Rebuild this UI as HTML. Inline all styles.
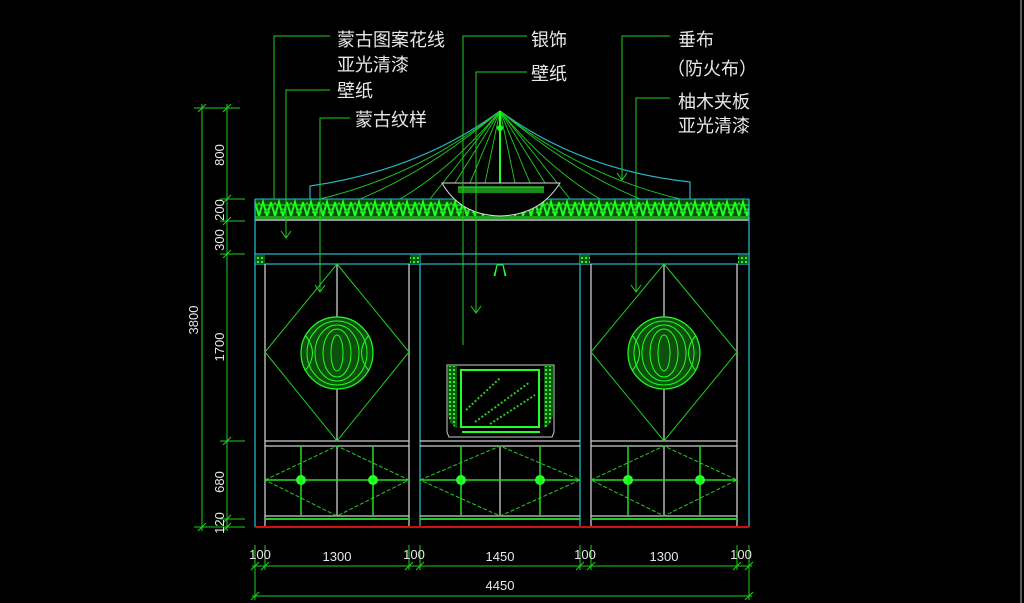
<!DOCTYPE html>
<html><head><meta charset="utf-8"><style>
html,body{margin:0;padding:0;background:#000;width:1024px;height:603px;overflow:hidden}
svg{display:block}
.t{font-family:"Liberation Sans","Noto Sans CJK SC",sans-serif;fill:#e8e8e8;font-size:18px}
.d{font-family:"Liberation Sans",sans-serif;fill:#e8e8e8;font-size:13px}
</style></head><body>
<svg width="1024" height="603" viewBox="0 0 1024 603" xmlns="http://www.w3.org/2000/svg">
<defs>
<pattern id="zz" x="255" y="199" width="16" height="20" patternUnits="userSpaceOnUse">
<rect width="16" height="20" fill="#0b4a0b"/>
<path d="M0 3 L4 17 L8 3 L12 17 L16 3" stroke="#22ff22" stroke-width="2" fill="none"/>
<path d="M1 8 L4 4 L7 8 M9 14 L12 10 L15 14 M2 12 L6 12 M10 6 L14 6" stroke="#18d818" stroke-width="1.3" fill="none"/>
<rect x="0" y="17" width="16" height="3" fill="#1ea01e"/>
</pattern>
<pattern id="sw" width="4" height="4" patternUnits="userSpaceOnUse">
<rect width="4" height="4" fill="#0a5a0a"/><circle cx="2" cy="2" r="1.1" fill="#3f3"/>
</pattern>
</defs>
<rect width="1024" height="603" fill="#000"/>
<line x1="1021" y1="0" x2="1021" y2="603" stroke="#777" stroke-width="1.5"/>

<!-- dome -->
<path d="M310 199 L310 186 Q420 170 500 111 Q580 170 690 182 L690 199" stroke="#2ab4c4" fill="none" stroke-width="1.2"/>
<g stroke="#1ed01e" stroke-width="0.9" fill="none">
<path d="M500 111 Q420 175 320 199"/><path d="M500 111 Q430 170 360 199"/><path d="M500 111 Q450 170 400 199"/>
<path d="M500 111 L430 199"/><path d="M500 111 L455 183"/><path d="M500 111 L470 183"/><path d="M500 111 L485 183"/>
<path d="M500 111 L515 183"/><path d="M500 111 L530 183"/><path d="M500 111 L545 183"/><path d="M500 111 L570 199"/>
<path d="M500 111 Q550 170 600 199"/><path d="M500 111 Q570 170 640 199"/><path d="M500 111 Q580 175 680 199"/>
</g>
<line x1="500" y1="111" x2="500" y2="183" stroke="#2f2" stroke-width="2"/>
<circle cx="500" cy="128" r="3" fill="#2f2"/>
<!-- cornice -->
<rect x="255" y="199" width="494" height="20" fill="url(#zz)"/>
<line x1="255" y1="199" x2="749" y2="199" stroke="#2ab4c4"/>
<line x1="255" y1="220" x2="749" y2="220" stroke="#999" stroke-width="2"/>
<!-- bowl -->
<path d="M442 183 L560 183 Q540 215 500 216 Q460 215 442 183 Z" fill="#000" stroke="#ddd" stroke-width="1"/>
<rect x="458" y="187" width="86" height="6" fill="#1a8a1a"/>
<line x1="458" y1="187" x2="544" y2="187" stroke="#2f2"/>
<!-- frame -->
<g stroke="#2ab4c4" stroke-width="1.3" fill="none">
<line x1="255" y1="199" x2="255" y2="527"/><line x1="749" y1="199" x2="749" y2="527"/>
<line x1="255" y1="254" x2="749" y2="254"/><line x1="255" y1="264" x2="749" y2="264"/>
<line x1="420" y1="254" x2="420" y2="527"/><line x1="580" y1="254" x2="580" y2="527"/>
</g>
<g stroke="#ccc" stroke-width="1.3" fill="none">
<line x1="265" y1="264" x2="265" y2="527"/><line x1="409" y1="264" x2="409" y2="527"/>
<line x1="591" y1="264" x2="591" y2="527"/><line x1="737" y1="264" x2="737" y2="527"/>
<line x1="337" y1="264" x2="337" y2="441"/><line x1="664" y1="264" x2="664" y2="441"/>
<line x1="265" y1="441" x2="409" y2="441"/><line x1="420" y1="441" x2="580" y2="441"/><line x1="591" y1="441" x2="737" y2="441"/>
<line x1="265" y1="446" x2="409" y2="446"/><line x1="420" y1="446" x2="580" y2="446"/><line x1="591" y1="446" x2="737" y2="446"/>
<line x1="265" y1="516" x2="409" y2="516"/><line x1="420" y1="516" x2="580" y2="516"/><line x1="591" y1="516" x2="737" y2="516"/>
<line x1="337" y1="446" x2="337" y2="516"/><line x1="500" y1="446" x2="500" y2="516"/><line x1="664" y1="446" x2="664" y2="516"/>
</g>
<g stroke="#2c2" stroke-width="2"><line x1="265" y1="519" x2="409" y2="519"/><line x1="420" y1="519" x2="580" y2="519"/><line x1="591" y1="519" x2="737" y2="519"/></g>
<line x1="255" y1="527" x2="749" y2="527" stroke="#d01010" stroke-width="2"/>
<!-- corner blocks -->
<g fill="url(#sw)"><rect x="256" y="255" width="9" height="9"/><rect x="410" y="255" width="10" height="9"/><rect x="580" y="255" width="10" height="9"/><rect x="738" y="255" width="10" height="9"/></g>
<!-- diamonds -->
<g stroke="#1ed01e" fill="none" stroke-width="1">
<path d="M337 264 L409 352 L337 441 L265 352 Z"/><path d="M664 264 L737 352 L664 441 L591 352 Z"/>
</g>
<g fill="#0c500c" stroke="#2f2" stroke-width="1.2">
<circle cx="337" cy="353" r="36"/><circle cx="664" cy="353" r="36"/>
</g>
<g stroke="#2f2" fill="none" stroke-width="1">
<ellipse cx="337" cy="353" rx="30" ry="32"/><ellipse cx="337" cy="353" rx="22" ry="28"/><ellipse cx="337" cy="353" rx="14" ry="24"/><ellipse cx="337" cy="353" rx="6" ry="18"/>
<ellipse cx="664" cy="353" rx="30" ry="32"/><ellipse cx="664" cy="353" rx="22" ry="28"/><ellipse cx="664" cy="353" rx="14" ry="24"/><ellipse cx="664" cy="353" rx="6" ry="18"/>
<path d="M305 335 Q320 353 305 371 M369 335 Q354 353 369 371 M632 335 Q647 353 632 371 M696 335 Q681 353 696 371"/>
</g>
<!-- lower cabinet diamonds -->
<g stroke="#1ed01e" fill="none" stroke-width="1" stroke-dasharray="4 2">
<path d="M265 480 L337 446 L409 480 L337 516 Z"/><path d="M420 480 L500 446 L580 480 L500 516 Z"/><path d="M591 480 L664 446 L737 480 L664 516 Z"/>
</g>
<g stroke="#2d2" stroke-width="1.5">
<line x1="265" y1="480" x2="409" y2="480"/><line x1="420" y1="480" x2="580" y2="480"/><line x1="591" y1="480" x2="737" y2="480"/>
<line x1="301" y1="446" x2="301" y2="516"/><line x1="373" y1="446" x2="373" y2="516"/>
<line x1="461" y1="446" x2="461" y2="516"/><line x1="540" y1="446" x2="540" y2="516"/>
<line x1="628" y1="446" x2="628" y2="516"/><line x1="700" y1="446" x2="700" y2="516"/>
</g>
<g fill="#2f2"><circle cx="301" cy="480" r="5"/><circle cx="373" cy="480" r="5"/><circle cx="461" cy="480" r="5"/><circle cx="540" cy="480" r="5"/><circle cx="628" cy="480" r="5"/><circle cx="700" cy="480" r="5"/></g>
<!-- small lamp -->
<path d="M494 276 L497 265 L503 265 L506 276 M497 265 L495 276 M503 265 L505 276" stroke="#2f2" fill="none"/>
<!-- TV -->
<path d="M447 365 L554 365 L554 432 L552 437 L449 437 L447 432 Z" stroke="#ccc" fill="#000"/>
<path d="M448 366 L457 366 L457 428 Q450 425 448 415 Z" fill="url(#sw)"/><path d="M544 366 L553 366 L553 415 Q551 425 544 428 Z" fill="url(#sw)"/>
<rect x="461" y="370" width="78" height="57" stroke="#2f2" stroke-width="2" fill="#000"/>
<path d="M466 410 L500 378 M475 422 L530 382 M490 424 L535 395" stroke="#2c2" stroke-width="2" stroke-dasharray="2 2"/>
<line x1="462" y1="432" x2="540" y2="432" stroke="#2f2" stroke-width="2"/>
<!-- leaders -->
<g stroke="#1ed01e" fill="none" stroke-width="1">
<path d="M330 36 L274 36 L274 199"/>
<path d="M330 90 L286 90 L286 238"/><path d="M281 231 L286 238 L291 231"/>
<path d="M350 118 L320 118 L320 292"/><path d="M315 285 L320 292 L325 285"/>
<path d="M527 36 L463 36 L463 345"/>
<path d="M527 72 L476 72 L476 313"/><path d="M471 306 L476 313 L481 306"/>
<path d="M670 36 L622 36 L622 180"/><path d="M617 173 L622 180 L627 173"/>
<path d="M670 98 L636 98 L636 292"/><path d="M631 285 L636 292 L641 285"/>
</g>
<!-- labels -->
<text class="t" x="337" y="46">蒙古图案花线</text>
<text class="t" x="337" y="71">亚光清漆</text>
<text class="t" x="337" y="97">壁纸</text>
<text class="t" x="355" y="126">蒙古纹样</text>
<text class="t" x="531" y="46">银饰</text>
<text class="t" x="531" y="80">壁纸</text>
<text class="t" x="678" y="46">垂布</text>
<text class="t" x="667" y="75">（防火布）</text>
<text class="t" x="678" y="108">柚木夹板</text>
<text class="t" x="678" y="132">亚光清漆</text>
<!-- vertical dims -->
<g stroke="#1ed01e" stroke-width="1">
<line x1="202" y1="104" x2="202" y2="531"/><line x1="227" y1="104" x2="227" y2="531"/>
<line x1="194" y1="108" x2="240" y2="108"/>
<line x1="220" y1="199" x2="245" y2="199"/><line x1="220" y1="221" x2="245" y2="221"/>
<line x1="220" y1="254" x2="245" y2="254"/><line x1="220" y1="441" x2="245" y2="441"/>
<line x1="220" y1="519" x2="245" y2="519"/><line x1="194" y1="527" x2="245" y2="527"/>
<path d="M198 112 L206 104 M223 112 L231 104 M223 203 L231 195 M223 225 L231 217 M223 258 L231 250 M223 445 L231 437 M223 523 L231 515 M223 531 L231 523 M198 531 L206 523"/>
</g>
<g class="d">
<text transform="translate(224,155) rotate(-90)" text-anchor="middle">800</text>
<text transform="translate(224,210) rotate(-90)" text-anchor="middle">200</text>
<text transform="translate(224,240) rotate(-90)" text-anchor="middle">300</text>
<text transform="translate(224,347) rotate(-90)" text-anchor="middle">1700</text>
<text transform="translate(224,482) rotate(-90)" text-anchor="middle">680</text>
<text transform="translate(224,523) rotate(-90)" text-anchor="middle">120</text>
<text transform="translate(198,320) rotate(-90)" text-anchor="middle">3800</text>
</g>
<!-- horizontal dims -->
<g stroke="#1ed01e" stroke-width="1">
<line x1="252" y1="566" x2="752" y2="566"/><line x1="252" y1="596" x2="752" y2="596"/>
<line x1="255" y1="545" x2="255" y2="600"/><line x1="749" y1="545" x2="749" y2="600"/>
<line x1="265" y1="545" x2="265" y2="570"/><line x1="409" y1="545" x2="409" y2="570"/><line x1="420" y1="545" x2="420" y2="570"/>
<line x1="580" y1="545" x2="580" y2="570"/><line x1="591" y1="545" x2="591" y2="570"/><line x1="737" y1="545" x2="737" y2="570"/>
<path d="M251 570 L259 562 M261 570 L269 562 M405 570 L413 562 M416 570 L424 562 M576 570 L584 562 M587 570 L595 562 M733 570 L741 562 M745 570 L753 562 M251 600 L259 592 M745 600 L753 592"/>
</g>
<g class="d" text-anchor="middle">
<text x="260" y="559">100</text><text x="337" y="561">1300</text><text x="414" y="559">100</text>
<text x="500" y="561">1450</text><text x="585" y="559">100</text><text x="664" y="561">1300</text>
<text x="741" y="559">100</text><text x="500" y="590">4450</text>
</g>
</svg>
</body></html>
